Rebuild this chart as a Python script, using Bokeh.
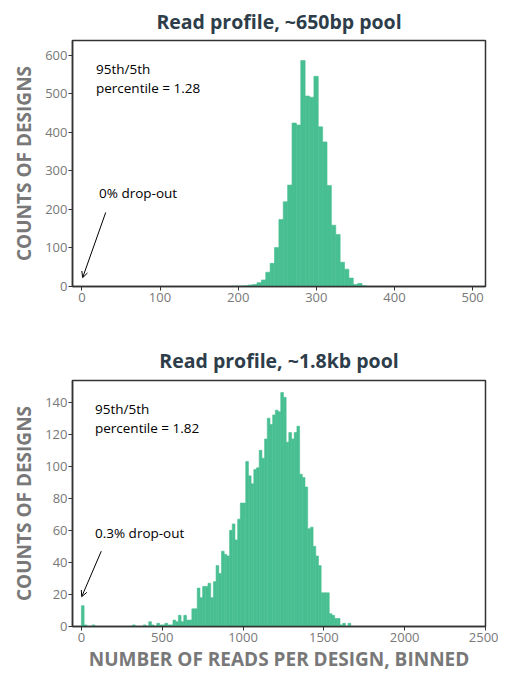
from bokeh.plotting import figure
from bokeh.layouts import column, row
from bokeh.models import Arrow, OpenHead, Label, FixedTicker, Range1d, Spacer
from bokeh.embed import file_html
from bokeh.resources import INLINE

# ---------------- data ----------------
short_title = "Read profile, ~650bp pool"
long_title = "Read profile, ~1.8kb pool"

short_bin_start = 190.5
short_bin_width = 5.6
short_counts = [1, 1, 1, 2, 4, 5, 10, 17, 37, 60, 101, 174, 220, 263, 424, 419,
                586, 494, 491, 545, 414, 375, 262, 159, 135, 63, 45, 22, 5, 8, 2]

long_bin_start = 0.0
long_bin_width = 2500 / 150
long_counts = [13, 1, 0, 0, 1, 0, 0, 0, 0, 0, 0, 0, 0, 0, 0, 0, 0, 0, 0, 1,
               0, 0, 0, 1, 0, 3, 1, 0, 2, 1, 1, 2, 1, 1, 4, 3, 7, 3, 7, 4,
               4, 11, 11, 24, 18, 25, 25, 27, 18, 28, 38, 33, 47, 45, 44, 60, 64, 54, 67, 77,
               77, 103, 94, 89, 98, 99, 110, 105, 117, 130, 126, 132, 135, 134, 146, 143, 115, 121, 117, 121,
               125, 95, 93, 87, 61, 62, 50, 44, 38, 21, 21, 21, 8, 7, 5, 5, 1, 2, 0, 2]

short_xticks = [0, 100, 200, 300, 400, 500]
short_yticks = [0, 100, 200, 300, 400, 500, 600]
long_xticks = [0, 500, 1000, 1500, 2000, 2500]
long_yticks = [0, 20, 40, 60, 80, 100, 120, 140]

short_notes = ["95th/5th", "percentile = 1.28", "0% drop-out"]
long_notes = ["95th/5th", "percentile = 1.82", "0.3% drop-out"]

y_label = "COUNTS OF DESIGNS"
x_label = "NUMBER OF READS PER DESIGN, BINNED"

# ---------------- style ----------------
BAR = "#48BF92"
TITLE_COLOR = "#2E3D4A"
GREY = "#787878"
FONT = "Open Sans"
FRAME_W = 413
FRAME_H = 246


def make_fig(title, start, width, counts, xr, yr, xticks, yticks, bt, bb, standoff, xlabel=None):
    p = figure(frame_width=FRAME_W, frame_height=FRAME_H,
               x_range=Range1d(*xr), y_range=Range1d(*yr),
               output_backend="svg", toolbar_location=None,
               min_border_left=10, min_border_right=13,
               min_border_top=bt, min_border_bottom=bb)
    lefts = [start + i * width for i in range(len(counts))]
    rights = [l + width for l in lefts]
    p.quad(left=lefts, right=rights, top=counts, bottom=0,
           fill_color=BAR, line_color=BAR, line_width=0.6)

    p.title.text = title
    p.title.align = "center"
    p.title.text_font = FONT
    p.title.text_font_size = "19.5px"
    p.title.text_font_style = "bold"
    p.title.text_color = TITLE_COLOR
    p.title.standoff = standoff

    p.xgrid.visible = False
    p.ygrid.visible = False
    p.outline_line_color = "#333333"
    p.outline_line_width = 1.5
    p.background_fill_color = "white"
    p.border_fill_color = "white"

    p.xaxis.ticker = FixedTicker(ticks=xticks)
    p.yaxis.ticker = FixedTicker(ticks=yticks)
    for ax in (p.xaxis[0], p.yaxis[0]):
        ax.minor_tick_line_color = None
        ax.major_tick_in = 0
        ax.major_tick_out = 4
        ax.major_tick_line_color = "#333333"
        ax.axis_line_color = "#333333"
        ax.axis_line_width = 1.5
        ax.major_label_text_font = FONT
        ax.major_label_text_font_size = "13px"
        ax.major_label_text_color = GREY
        ax.major_label_standoff = 2
        ax.axis_label_text_font = FONT
        ax.axis_label_text_font_size = "19px"
        ax.axis_label_text_font_style = "bold"
        ax.axis_label_text_color = GREY
    p.yaxis.major_label_standoff = 1
    p.yaxis.axis_label = y_label
    p.yaxis.axis_label_standoff = 5
    if xlabel:
        p.xaxis.axis_label = xlabel
        p.xaxis.axis_label_standoff = 1
    return p


p1 = make_fig(short_title, short_bin_start, short_bin_width, short_counts,
              (-12, 516.5), (0, 638), short_xticks, short_yticks, 32, 52, 11)
p2 = make_fig(long_title, long_bin_start, long_bin_width, long_counts,
              (-55, 2500), (0, 153.5), long_xticks, long_yticks, 35, 40, 13, x_label)


def annotate(p, notes, xs, ys, ax0, ay0, ax1, ay1):
    for txt, xx, yy in zip(notes, xs, ys):
        p.add_layout(Label(x=xx, y=yy, text=txt, text_font=FONT,
                           text_font_size="13.5px", text_color="black",
                           text_baseline="middle", text_align="left"))
    p.add_layout(Arrow(end=OpenHead(size=6, line_width=1, line_color="black"),
                       x_start=ax0, y_start=ay0, x_end=ax1, y_end=ay1,
                       line_width=1, line_color="black"))


annotate(p1, short_notes, (18, 18, 22), (563, 514, 243), 30.5, 192, 1, 23)
annotate(p2, long_notes, (84, 84, 84), (136, 124, 58.5), 123, 47, 2, 18.6)

layout = row(Spacer(width=8), column(p1, p2, spacing=0), spacing=0)
open("out.html", "w").write(file_html(layout, INLINE))
